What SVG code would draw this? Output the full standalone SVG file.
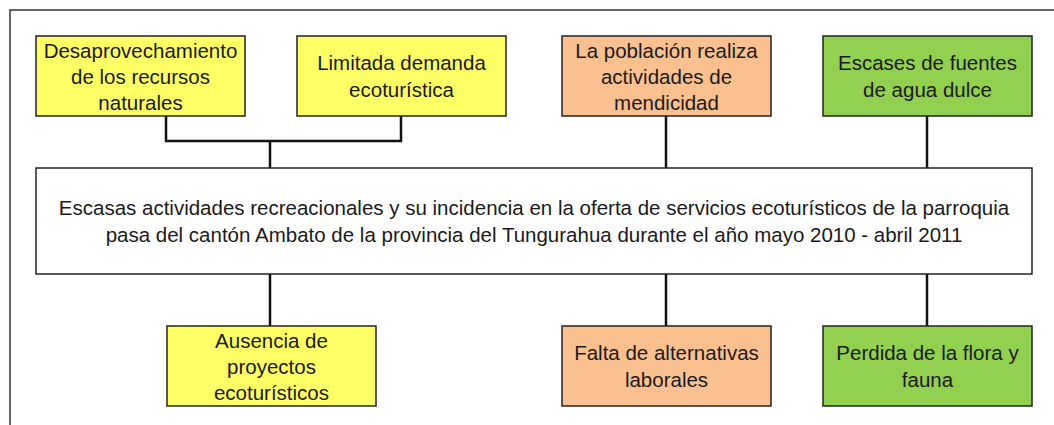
<svg xmlns="http://www.w3.org/2000/svg" width="1054" height="425" viewBox="0 0 1054 425">
<style>
.box{stroke:#222;stroke-width:1.5}
.y{fill:#FFFF66}.o{fill:#FAC090}.g{fill:#92D050}.w{fill:#fff}
text{font-family:"Liberation Sans",Arial,sans-serif;font-size:20.5px;fill:#1a1a1a;text-anchor:middle}
#connectors path{fill:none;stroke:#111;stroke-width:2.5}
</style>
<rect width="1054" height="425" fill="#fff"/>
<path d="M10,425 V10 H1054" fill="none" stroke="#333" stroke-width="1.5"/>
<g id="connectors">
<path d="M166,116 V141 H401 V116 M270,141 V168"/>
<path d="M666,116 V168"/>
<path d="M927,116 V168"/>
<path d="M270,274 V326"/>
<path d="M666,274 V326"/>
<path d="M927,274 V326"/>
</g>
<g id="n1"><rect class="box y" x="36" y="36" width="209" height="80"/><text x="140.5" y="58">Desaprovechamiento</text><text x="140.5" y="84">de los recursos</text><text x="140.5" y="110">naturales</text></g>
<g id="n2"><rect class="box y" x="297" y="36" width="209" height="80"/><text x="401.5" y="70">Limitada demanda</text><text x="401.5" y="97">ecoturística</text></g>
<g id="n3"><rect class="box o" x="562" y="36" width="209" height="80"/><text x="666.5" y="58">La población realiza</text><text x="666.5" y="84">actividades de</text><text x="666.5" y="110">mendicidad</text></g>
<g id="n4"><rect class="box g" x="823" y="36" width="209" height="80"/><text x="927.5" y="70">Escases de fuentes</text><text x="927.5" y="97">de agua dulce</text></g>
<g id="center"><rect class="box w" x="36" y="168" width="996" height="106"/><text x="534" y="215">Escasas actividades recreacionales y su incidencia en la oferta de servicios ecoturísticos de la parroquia</text><text x="534" y="242">pasa del cantón Ambato de la provincia del Tungurahua durante el año mayo 2010 - abril 2011</text></g>
<g id="n5"><rect class="box y" x="167" y="326" width="209" height="80"/><text x="271.5" y="348">Ausencia de</text><text x="271.5" y="374">proyectos</text><text x="271.5" y="400">ecoturísticos</text></g>
<g id="n6"><rect class="box o" x="562" y="326" width="209" height="80"/><text x="666.5" y="360">Falta de alternativas</text><text x="666.5" y="387">laborales</text></g>
<g id="n7"><rect class="box g" x="823" y="326" width="209" height="80"/><text x="927.5" y="360">Perdida de la flora y</text><text x="927.5" y="387">fauna</text></g>
</svg>
